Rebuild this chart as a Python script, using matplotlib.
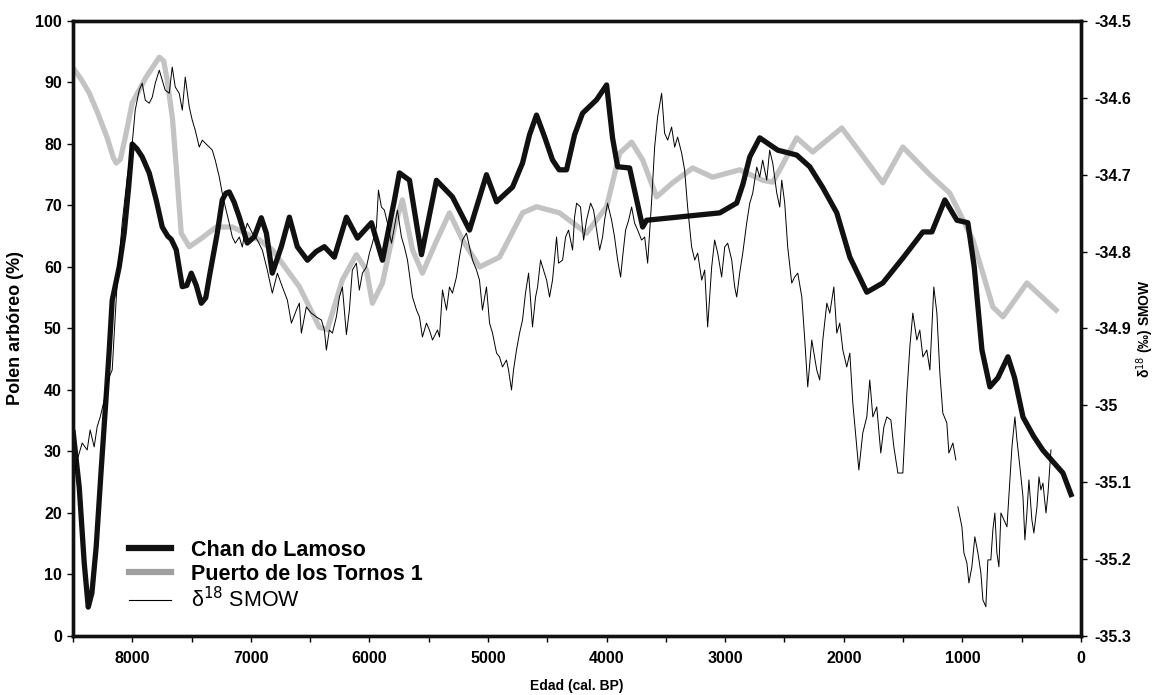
import numpy as np
import matplotlib
matplotlib.use("Agg")
import matplotlib.pyplot as plt
from matplotlib.ticker import MultipleLocator
from matplotlib.lines import Line2D

plt.rcParams['font.family'] = ['Liberation Sans', 'DejaVu Sans']

# --- Chan do Lamoso (pollen %, left axis) ---
chan_age = [8500, 8447, 8405, 8371, 8340, 8304, 8262, 8220, 8194, 8169, 8110, 8068, 8030, 8000,
            7960, 7916, 7857, 7798, 7747, 7700, 7671, 7629, 7578, 7540, 7502, 7460, 7418, 7380,
            7350, 7283, 7241, 7210, 7182, 7140, 7097, 7030, 6971, 6912, 6869, 6819, 6743, 6675,
            6608, 6523, 6450, 6380, 6296, 6194, 6101, 5983, 5890, 5789, 5747, 5662, 5561, 5435,
            5300, 5156, 5013, 4928, 4793, 4709, 4650, 4591, 4520, 4456, 4400, 4338, 4270, 4203,
            4084, 4000, 3950, 3907, 3806, 3696, 3663, 3046, 2903, 2850, 2793, 2709, 2557, 2397,
            2287, 2180, 2059, 1949, 1806, 1671, 1500, 1333, 1257, 1148, 1046, 954, 900, 835, 768,
            700, 616, 560, 489, 400, 321, 152, 76]
chan_val = [33.5, 24.2, 11.9, 4.7, 7.0, 14.5, 27.0, 38.9, 46.5, 54.6, 60.0, 65.5, 73.0, 80.0,
            79.2, 77.9, 75.3, 70.9, 66.5, 65.0, 64.5, 62.8, 56.8, 57.0, 59.0, 57.0, 54.1, 55.0,
            58.4, 65.5, 70.9, 72.0, 72.2, 70.5, 68.1, 63.9, 64.9, 68.0, 65.5, 59.0, 63.3, 68.1,
            63.3, 61.1, 62.5, 63.3, 61.6, 68.1, 64.7, 67.2, 61.1, 70.9, 75.3, 74.1, 62.0, 74.1,
            71.4, 66.0, 75.0, 70.6, 73.0, 76.9, 81.5, 84.7, 81.0, 77.4, 75.8, 75.8, 81.5, 85.0,
            87.2, 89.6, 81.0, 76.3, 76.1, 66.5, 67.6, 68.8, 70.4, 73.5, 77.9, 81.0, 79.0, 78.2,
            76.3, 73.0, 68.8, 61.6, 55.9, 57.4, 61.5, 65.7, 65.7, 70.9, 67.6, 67.2, 60.0, 46.5,
            40.5, 42.0, 45.4, 42.0, 35.6, 32.5, 30.2, 26.5, 22.6]

# --- Puerto de los Tornos 1 (pollen %, left axis) ---
tornos_age = [8500, 8430, 8363, 8290, 8211, 8160, 8135, 8100, 8051, 8000, 7882, 7772, 7735,
              7705, 7660, 7629, 7587, 7519, 7435, 7291, 7156, 6928, 6819, 6591, 6422, 6355,
              6228, 6110, 6025, 5975, 5890, 5789, 5722, 5637, 5553, 5440, 5325, 5215, 5072,
              4903, 4709, 4591, 4397, 4169, 4000, 3890, 3789, 3696, 3578, 3443, 3274, 3106,
              2878, 2684, 2599, 2540, 2397, 2262, 2017, 1865, 1671, 1502, 1274, 1106, 911,
              743, 658, 456, 194]
tornos_val = [92.4, 90.5, 88.3, 85.0, 81.0, 77.8, 76.9, 77.5, 81.8, 86.7, 90.9, 94.1, 93.5,
              90.4, 84.0, 76.3, 65.5, 63.3, 64.4, 66.5, 66.5, 64.4, 62.8, 56.8, 50.2, 49.8,
              57.9, 62.0, 59.5, 54.1, 57.4, 66.5, 70.9, 62.8, 59.0, 64.0, 68.8, 64.4, 60.0,
              61.6, 68.8, 69.8, 68.8, 65.5, 69.8, 78.5, 80.3, 77.4, 71.4, 73.7, 76.1, 74.6,
              75.8, 74.1, 73.8, 75.8, 81.0, 78.7, 82.6, 78.7, 73.7, 79.5, 75.0, 72.0, 64.4,
              53.5, 51.9, 57.4, 52.7]

# --- delta18 SMOW (permil, right axis) ---
d18_age = [8480, 8464, 8422, 8380, 8355, 8321, 8296, 8270, 8236, 8211, 8194, 8169, 8144, 8127,
           8085, 8042, 8000, 7975, 7941, 7916, 7890, 7857, 7831, 7806, 7772, 7747, 7722, 7688,
           7663, 7637, 7604, 7578, 7553, 7519, 7494, 7469, 7435, 7409, 7384, 7350, 7325, 7300,
           7266, 7241, 7215, 7182, 7156, 7131, 7097, 7072, 7047, 7030, 6987, 6945, 6903, 6861,
           6819, 6776, 6734, 6692, 6658, 6616, 6591, 6574, 6532, 6490, 6447, 6405, 6380, 6363,
           6338, 6312, 6279, 6253, 6228, 6194, 6169, 6144, 6110, 6085, 6059, 6025, 6000, 5975,
           5941, 5924, 5899, 5874, 5848, 5814, 5789, 5764, 5730, 5705, 5679, 5637, 5603, 5578,
           5553, 5519, 5494, 5468, 5426, 5409, 5384, 5350, 5325, 5300, 5266, 5241, 5215, 5182,
           5156, 5131, 5097, 5072, 5047, 5013, 4987, 4962, 4928, 4903, 4878, 4844, 4827, 4802,
           4785, 4760, 4734, 4709, 4684, 4658, 4641, 4625, 4599, 4582, 4557, 4532, 4506, 4481,
           4456, 4422, 4405, 4371, 4346, 4321, 4287, 4270, 4253, 4220, 4194, 4169, 4135, 4110,
           4084, 4059, 4034, 4017, 3992, 3958, 3933, 3907, 3882, 3865, 3840, 3814, 3789, 3764,
           3738, 3705, 3679, 3654, 3620, 3595, 3570, 3536, 3511, 3485, 3452, 3426, 3401, 3367,
           3342, 3317, 3283, 3257, 3232, 3198, 3173, 3148, 3114, 3089, 3063, 3030, 3004, 2979,
           2945, 2920, 2903, 2878, 2852, 2819, 2793, 2768, 2734, 2709, 2684, 2650, 2625, 2599,
           2565, 2540, 2523, 2498, 2473, 2439, 2414, 2388, 2354, 2329, 2304, 2270, 2228, 2203,
           2177, 2143, 2118, 2084, 2059, 2034, 2008, 1975, 1949, 1924, 1890, 1873, 1840, 1806,
           1781, 1755, 1722, 1688, 1662, 1637, 1603, 1578, 1544, 1502, 1468, 1443, 1418, 1384,
           1359, 1333, 1300, 1274, 1241, 1215, 1190, 1165, 1131, 1114, 1080, 1055, 1045, 1038,
           1004, 987, 962, 945, 920, 895, 869, 844, 827, 802, 785, 760, 743, 726, 709, 692, 675,
           650, 624, 608, 582, 574, 557, 540, 515, 489, 473, 456, 439, 414, 397, 371, 354, 338,
           321, 295, 278, 253]
d18_val = [-35.084, -35.071, -35.049, -35.058, -35.032, -35.054, -35.028, -35.015, -34.993,
           -34.971, -34.963, -34.954, -34.885, -34.841, -34.763, -34.703, -34.659, -34.616,
           -34.590, -34.581, -34.603, -34.607, -34.599, -34.581, -34.564, -34.577, -34.590,
           -34.594, -34.560, -34.586, -34.594, -34.616, -34.573, -34.612, -34.629, -34.642,
           -34.664, -34.655, -34.659, -34.664, -34.668, -34.681, -34.703, -34.724, -34.742,
           -34.763, -34.781, -34.789, -34.781, -34.794, -34.772, -34.763, -34.776, -34.785,
           -34.798, -34.824, -34.854, -34.828, -34.846, -34.863, -34.893, -34.876, -34.867,
           -34.906, -34.872, -34.880, -34.885, -34.889, -34.902, -34.928, -34.902, -34.906,
           -34.885, -34.859, -34.846, -34.908, -34.876, -34.824, -34.815, -34.850, -34.828,
           -34.820, -34.802, -34.789, -34.768, -34.720, -34.742, -34.746, -34.763, -34.789,
           -34.768, -34.746, -34.781, -34.794, -34.811, -34.859, -34.876, -34.885, -34.911,
           -34.893, -34.902, -34.915, -34.902, -34.911, -34.850, -34.876, -34.846, -34.854,
           -34.833, -34.807, -34.785, -34.776, -34.794, -34.811, -34.824, -34.837, -34.876,
           -34.846, -34.893, -34.906, -34.932, -34.937, -34.950, -34.941, -34.954, -34.980,
           -34.954, -34.928, -34.906, -34.889, -34.854, -34.828, -34.863, -34.898, -34.859,
           -34.846, -34.811, -34.824, -34.837, -34.859, -34.837, -34.781, -34.815, -34.811,
           -34.781, -34.772, -34.798, -34.755, -34.737, -34.742, -34.785, -34.759, -34.737,
           -34.746, -34.772, -34.798, -34.781, -34.759, -34.737, -34.759, -34.781, -34.811,
           -34.833, -34.807, -34.772, -34.759, -34.742, -34.763, -34.772, -34.785, -34.781,
           -34.815, -34.733, -34.664, -34.625, -34.594, -34.646, -34.655, -34.638, -34.664,
           -34.651, -34.672, -34.694, -34.742, -34.794, -34.811, -34.802, -34.837, -34.824,
           -34.898, -34.820, -34.785, -34.802, -34.833, -34.794, -34.789, -34.811, -34.846,
           -34.859, -34.828, -34.802, -34.763, -34.737, -34.724, -34.690, -34.703, -34.681,
           -34.707, -34.668, -34.685, -34.724, -34.742, -34.707, -34.737, -34.794, -34.841,
           -34.833, -34.828, -34.859, -34.915, -34.976, -34.915, -34.954, -34.967, -34.915,
           -34.867, -34.880, -34.846, -34.906, -34.893, -34.928, -34.950, -34.932, -34.997,
           -35.054, -35.084, -35.036, -35.015, -34.967, -35.015, -35.002, -35.062, -35.028,
           -35.015, -35.019, -35.054, -35.088, -35.088, -34.984, -34.924, -34.880, -34.915,
           -34.902, -34.937, -34.928, -34.954, -34.846, -34.880, -34.958, -35.010, -35.023,
           -35.062, -35.049, -35.071, np.nan, -35.132, -35.158, -35.192, -35.205, -35.231,
           -35.210, -35.171, -35.192, -35.218, -35.253, -35.262, -35.201, -35.201, -35.162,
           -35.140, -35.192, -35.210, -35.140, -35.149, -35.158, -35.119, -35.054, -35.041,
           -35.015, -35.045, -35.080, -35.119, -35.175, -35.140, -35.097, -35.149, -35.166,
           -35.132, -35.093, -35.110, -35.101, -35.140, -35.114, -35.058]

x_ticks = [8000, 7000, 6000, 5000, 4000, 3000, 2000, 1000, 0]
left_ticks = [0, 10, 20, 30, 40, 50, 60, 70, 80, 90, 100]
right_ticks = [-35.3, -35.2, -35.1, -35.0, -34.9, -34.8, -34.7, -34.6, -34.5]
right_tick_labels = ['-35.3', '-35.2', '-35.1', '-35', '-34.9', '-34.8', '-34.7', '-34.6', '-34.5']

fig = plt.figure(figsize=(11.56, 6.95), dpi=100)
ax = fig.add_axes([0.0631, 0.0849, 0.8720, 0.8849])
ax2 = ax.twinx()

gray = '#c3c3c3'
ax.plot(tornos_age, tornos_val, color=gray, lw=3.8, solid_capstyle='butt',
        solid_joinstyle='round', zorder=2)
ax.plot(chan_age, chan_val, color='#111111', lw=3.8, solid_capstyle='butt',
        solid_joinstyle='round', zorder=3)
ax2.plot(d18_age, d18_val, color='black', lw=0.7, zorder=4)

ax.set_xlim(8500, 0)
ax.set_ylim(0, 100)
ax2.set_ylim(-35.3, -34.5)

ax.set_xticks(x_ticks)
ax.xaxis.set_minor_locator(MultipleLocator(500))
ax.set_yticks(left_ticks)
ax2.set_yticks(right_ticks)
ax2.set_yticklabels(right_tick_labels)

for a in (ax, ax2):
    for s in a.spines.values():
        s.set_linewidth(2.4)
        s.set_color('#111111')
ax.tick_params(axis='both', which='major', direction='out', length=4, width=1.0,
               labelsize=11.5, pad=4)
ax.tick_params(axis='x', which='minor', direction='out', length=4, width=1.0)
ax.tick_params(axis='x', which='major', pad=7)
ax2.tick_params(axis='y', direction='out', length=4, width=1.0, labelsize=11.5, pad=6)
for lab in ax.get_xticklabels() + ax.get_yticklabels() + ax2.get_yticklabels():
    lab.set_fontweight('bold')

ax.set_xlabel('Edad (cal. BP)', fontsize=10, fontweight='bold', labelpad=9)
ax.set_ylabel('Polen arbóreo (%)', fontsize=13, fontweight='bold', labelpad=8)
ax2.set_ylabel(r'δ$^{18}$ (‰) SMOW', fontsize=10, fontweight='bold', labelpad=2)

handles = [Line2D([], [], color='#111111', lw=4.5),
           Line2D([], [], color='#a0a0a0', lw=4.5),
           Line2D([], [], color='black', lw=0.8)]
labels = ['Chan do Lamoso', 'Puerto de los Tornos 1', r'δ$^{18}$ SMOW']
leg = ax.legend(handles, labels, loc='lower left', bbox_to_anchor=(0.036, 0.007),
                frameon=False, handlelength=1.95, handletextpad=0.95, labelspacing=0.12,
                prop={'size': 15.5})
for i, t in enumerate(leg.get_texts()):
    if i < 2:
        t.set_fontweight('bold')

fig.savefig('out.png', dpi=100)
